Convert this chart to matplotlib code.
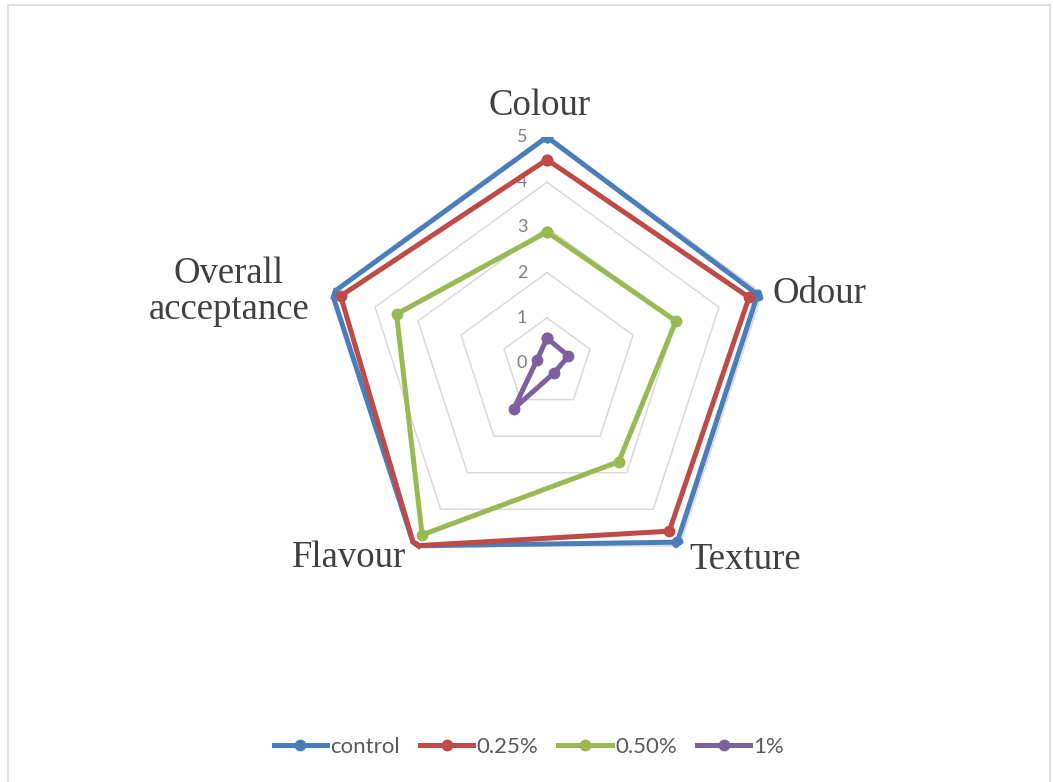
import numpy as np
import matplotlib
matplotlib.use("Agg")
import matplotlib.pyplot as plt
from matplotlib.patches import Rectangle

categories = ["Colour", "Odour", "Texture", "Flavour", "Overall\nacceptance"]
series_names = ["control", "0.25%", "0.50%", "1%"]
control = [5.0, 4.9, 4.9, 5.0, 5.0]
p025 = [4.5, 4.7, 4.6, 5.0, 4.8]
p050 = [2.9, 3.0, 2.7, 4.7, 3.5]
p100 = [0.55, 0.5, 0.27, 1.25, 0.23]
tick_values = [0, 1, 2, 3, 4, 5]

colors = ["#4A7EBB", "#BE4B48", "#98B954", "#7D60A0"]
W, H, DPI = 1053, 782, 100
fig = plt.figure(figsize=(W / DPI, H / DPI), dpi=DPI)
fig.patch.set_facecolor("white")

# outer chart border
fig.patches.append(Rectangle((8 / W, -0.01), (1050 - 8) / W, 1 - 5 / H + 0.01,
                             transform=fig.transFigure, fill=False,
                             edgecolor="#d9d9d9", linewidth=1.2))

cx, cy, R = 547, 363, 226
ax = fig.add_axes([(cx - R) / W, (H - cy - R) / H, 2 * R / W, 2 * R / H],
                  projection="polar")
ax.set_theta_offset(np.pi / 2)
ax.set_theta_direction(-1)
ax.set_ylim(0, 5)
ax.grid(False)
ax.spines["polar"].set_visible(False)
ax.set_xticks([])
ax.set_yticks([])
ax.patch.set_alpha(0)

n = len(categories)
theta = np.linspace(0, 2 * np.pi, n, endpoint=False)
theta_c = np.append(theta, theta[0])

# pentagon gridlines
for v in tick_values[1:]:
    ax.plot(theta_c, [v] * (n + 1), color="#d9d9d9", lw=1.1, zorder=1)

# tick labels along the Colour axis
for v in tick_values:
    ax.annotate(str(v), xy=(0, v), xytext=(-25, 0), textcoords="offset pixels",
                ha="center", va="center", fontsize=13, color="#7f7f7f",
                family="Lato", annotation_clip=False)

data = [control, p025, p050, p100]
for i, (name, vals) in enumerate(zip(series_names, data)):
    v = list(vals) + [vals[0]]
    ax.plot(theta_c, v, color=colors[i], lw=3.6, marker="o", markersize=7.5,
            label=name, zorder=3 + i, solid_joinstyle="miter")

# category labels
label_cfg = [
    dict(off=(-7, 31), ha="center", va="center"),
    dict(off=(11, -1), ha="left", va="center"),
    dict(off=(10, -14), ha="left", va="center"),
    dict(off=(-8, -12), ha="right", va="center"),
    dict(off=(-23, 1), ha="right", va="center"),
]
for t, lab, cfg in zip(theta, categories, label_cfg):
    ax.annotate(lab, xy=(t, 5), xytext=cfg["off"], textcoords="offset pixels",
                ha=cfg["ha"], va=cfg["va"], multialignment="center",
                fontsize=26.5, color="#404040", family="Liberation Serif",
                annotation_clip=False, linespacing=1.05)

leg = fig.legend(loc="center", bbox_to_anchor=(529 / W, 1 - 747 / H), ncol=4,
                 frameon=False, prop={"family": "Lato", "size": 16},
                 handlelength=2.4, handletextpad=0.15, columnspacing=0.9)
for txt in leg.get_texts():
    txt.set_color("#595959")

fig.savefig("out.png", dpi=DPI)
